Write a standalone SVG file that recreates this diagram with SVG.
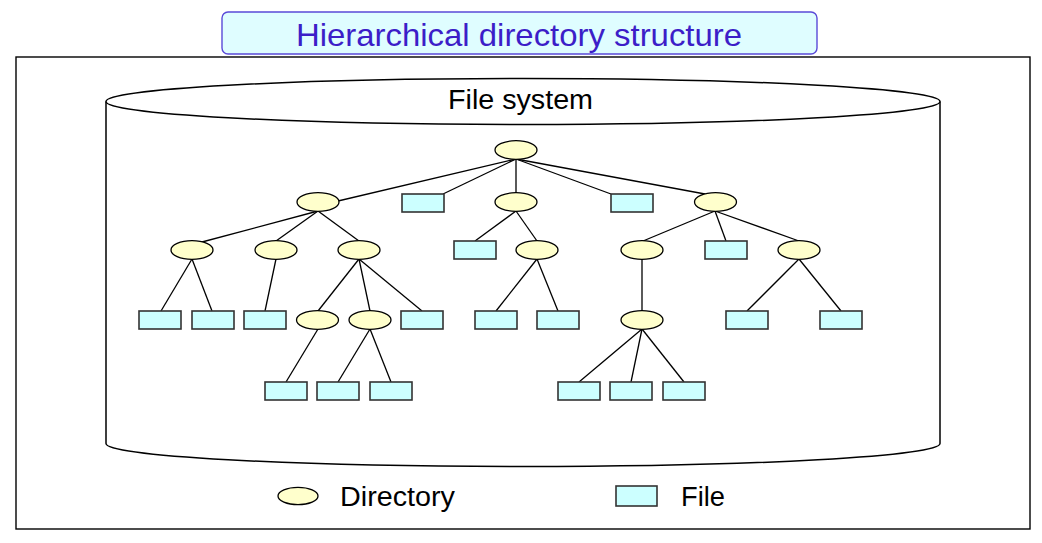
<svg xmlns="http://www.w3.org/2000/svg" width="1042" height="543" viewBox="0 0 1042 543">
<style>
.dir{fill:#FFFFCC;stroke:#000;stroke-width:1.3}
.file{fill:#CCFFFF;stroke:#333;stroke-width:1.6}
.edge{stroke:#000;stroke-width:1.3;fill:none}
.lbl{font-family:"Liberation Sans",Arial,sans-serif;fill:#000}
</style>
<rect width="1042" height="543" fill="#fff"/>
<g id="frame">
<rect x="16" y="57" width="1014" height="472" fill="#fff" stroke="#000" stroke-width="1.4"/>
</g>
<g id="title">
<rect x="222" y="12" width="595" height="42" rx="6" fill="#DFFDFF" stroke="#5a4ad8" stroke-width="1.4"/>
<text x="519" y="46" text-anchor="middle" font-family="Liberation Sans, Arial, sans-serif" font-size="32" fill="#3C1EC8" textLength="446" lengthAdjust="spacingAndGlyphs">Hierarchical directory structure</text>
</g>
<g id="filesystem">
<path d="M106,101.5 V443.5 A417,23 0 0 0 940,443.5 V101.5" fill="#fff" stroke="#000" stroke-width="1.5"/>
<ellipse cx="523" cy="101.5" rx="417" ry="23" fill="#fff" stroke="#000" stroke-width="1.5"/>
<text class="lbl" x="520.5" y="109" text-anchor="middle" font-size="27" textLength="145" lengthAdjust="spacingAndGlyphs">File system</text>
</g>
<g id="connectors" class="edge">
<line x1="516" y1="159" x2="338" y2="201"/>
<line x1="516" y1="159" x2="443" y2="194"/>
<line x1="516" y1="159" x2="516" y2="193"/>
<line x1="516" y1="159" x2="611" y2="194"/>
<line x1="516" y1="159" x2="705" y2="194"/>
<line x1="318" y1="211" x2="202" y2="242"/>
<line x1="318" y1="211" x2="276" y2="241"/>
<line x1="318" y1="211" x2="359" y2="241"/>
<line x1="192" y1="259" x2="161" y2="311"/>
<line x1="192" y1="259" x2="212" y2="311"/>
<line x1="276" y1="259" x2="265" y2="311"/>
<line x1="359" y1="259" x2="318" y2="311"/>
<line x1="359" y1="259" x2="370" y2="311"/>
<line x1="359" y1="259" x2="422" y2="311"/>
<line x1="318" y1="329" x2="286" y2="382"/>
<line x1="370" y1="329" x2="338" y2="382"/>
<line x1="370" y1="329" x2="391" y2="382"/>
<line x1="516" y1="211" x2="475" y2="241"/>
<line x1="516" y1="211" x2="537" y2="241"/>
<line x1="537" y1="259" x2="496" y2="311"/>
<line x1="537" y1="259" x2="558" y2="311"/>
<line x1="715" y1="211" x2="643" y2="241"/>
<line x1="715" y1="211" x2="726" y2="241"/>
<line x1="715" y1="211" x2="799" y2="241"/>
<line x1="642" y1="259" x2="642" y2="311"/>
<line x1="642" y1="329" x2="579" y2="382"/>
<line x1="642" y1="329" x2="631" y2="382"/>
<line x1="642" y1="329" x2="684" y2="382"/>
<line x1="799" y1="259" x2="747" y2="311"/>
<line x1="799" y1="259" x2="841" y2="311"/>
</g>
<g id="root"><ellipse class="dir" cx="516" cy="150" rx="21" ry="9.3"/></g>
<g id="d1"><ellipse class="dir" cx="318" cy="202" rx="21" ry="9.3"/></g>
<g id="f1"><rect class="file" x="402" y="194" width="42" height="18"/></g>
<g id="d2"><ellipse class="dir" cx="516" cy="202" rx="21" ry="9.3"/></g>
<g id="f2"><rect class="file" x="611" y="194" width="42" height="18"/></g>
<g id="d3"><ellipse class="dir" cx="715.5" cy="202" rx="21" ry="9.3"/></g>
<g id="d11"><ellipse class="dir" cx="192" cy="250" rx="21" ry="9.3"/></g>
<g id="d12"><ellipse class="dir" cx="276" cy="250" rx="21" ry="9.3"/></g>
<g id="d13"><ellipse class="dir" cx="359" cy="250" rx="21" ry="9.3"/></g>
<g id="f21"><rect class="file" x="454" y="241" width="42" height="18"/></g>
<g id="d22"><ellipse class="dir" cx="537" cy="250" rx="21" ry="9.3"/></g>
<g id="d31"><ellipse class="dir" cx="642" cy="250" rx="21" ry="9.3"/></g>
<g id="f32"><rect class="file" x="705" y="241" width="42" height="18"/></g>
<g id="d33"><ellipse class="dir" cx="799" cy="250" rx="21" ry="9.3"/></g>
<g id="f111"><rect class="file" x="139" y="311" width="42" height="18"/></g>
<g id="f112"><rect class="file" x="192" y="311" width="42" height="18"/></g>
<g id="f121"><rect class="file" x="244" y="311" width="42" height="18"/></g>
<g id="d131"><ellipse class="dir" cx="317.5" cy="320" rx="21" ry="9.3"/></g>
<g id="d132"><ellipse class="dir" cx="370" cy="320" rx="21" ry="9.3"/></g>
<g id="f133"><rect class="file" x="401" y="311" width="42" height="18"/></g>
<g id="f221"><rect class="file" x="475" y="311" width="42" height="18"/></g>
<g id="f222"><rect class="file" x="537" y="311" width="42" height="18"/></g>
<g id="d311"><ellipse class="dir" cx="642" cy="320" rx="21" ry="9.3"/></g>
<g id="f331"><rect class="file" x="726" y="311" width="42" height="18"/></g>
<g id="f332"><rect class="file" x="820" y="311" width="42" height="18"/></g>
<g id="f1311"><rect class="file" x="265" y="382" width="42" height="18"/></g>
<g id="f1321"><rect class="file" x="317" y="382" width="42" height="18"/></g>
<g id="f1322"><rect class="file" x="370" y="382" width="42" height="18"/></g>
<g id="f3111"><rect class="file" x="558" y="382" width="42" height="18"/></g>
<g id="f3112"><rect class="file" x="610" y="382" width="42" height="18"/></g>
<g id="f3113"><rect class="file" x="663" y="382" width="42" height="18"/></g>
<g id="legend-dir">
<ellipse class="dir" cx="298" cy="496" rx="20" ry="8.7"/>
<text class="lbl" x="340" y="506" font-size="27" textLength="115" lengthAdjust="spacingAndGlyphs">Directory</text>
</g>
<g id="legend-file">
<rect class="file" x="616" y="486" width="41" height="20"/>
<text class="lbl" x="681" y="506" font-size="27" textLength="44" lengthAdjust="spacingAndGlyphs">File</text>
</g>
</svg>
